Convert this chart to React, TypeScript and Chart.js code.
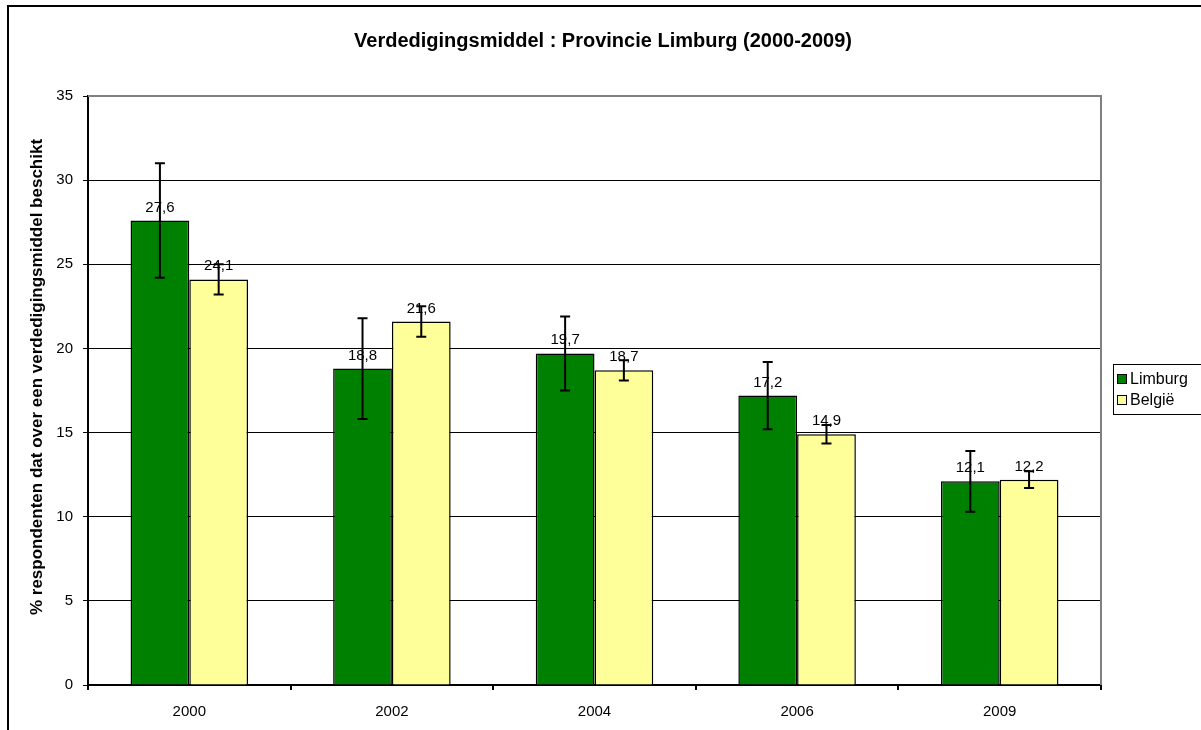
import React, { useEffect, useRef } from "react";
import { Chart, registerables } from "chart.js";

Chart.register(...registerables);

const years = ["2000", "2002", "2004", "2006", "2009"];
const limburg = [27.6, 18.8, 19.7, 17.2, 12.1];
const belgie = [24.1, 21.6, 18.7, 14.9, 12.2];
const limburgErr = [3.4, 3.0, 2.2, 2.0, 1.8];
const belgieErr = [0.9, 0.9, 0.6, 0.55, 0.5];
const seriesNames = ["Limburg", "België"];
const titleText = "Verdedigingsmiddel : Provincie Limburg (2000-2009)";
const yTitleText = "% respondenten dat over een verdedigingsmiddel beschikt";

const FONT = "Arial, 'Liberation Sans', sans-serif";

const decor = {
  id: "decor",
  beforeDraw(chart: any) {
    const { ctx, width, height } = chart;
    ctx.save();
    ctx.fillStyle = "#fff";
    ctx.fillRect(0, 0, width, height);
    ctx.restore();
  },
  afterDatasetsDraw(chart: any) {
    const { ctx, chartArea } = chart;
    const yScale = chart.scales.y;
    const errs = [limburgErr, belgieErr];
    ctx.save();
    // plot area top/right grey frame
    ctx.strokeStyle = "#808080";
    ctx.lineWidth = 2;
    ctx.beginPath();
    ctx.moveTo(chartArea.left, chartArea.top);
    ctx.lineTo(chartArea.right, chartArea.top);
    ctx.lineTo(chartArea.right, chartArea.bottom);
    ctx.stroke();
    // error bars
    ctx.strokeStyle = "#000";
    ctx.lineWidth = 2;
    chart.data.datasets.forEach((ds: any, di: number) => {
      const meta = chart.getDatasetMeta(di);
      meta.data.forEach((bar: any, i: number) => {
        const v = ds.data[i];
        const e = errs[di][i];
        const x = bar.x;
        const yt = yScale.getPixelForValue(v + e);
        const yb = yScale.getPixelForValue(v - e);
        ctx.beginPath();
        ctx.moveTo(x, yt);
        ctx.lineTo(x, yb);
        ctx.moveTo(x - 5, yt);
        ctx.lineTo(x + 5, yt);
        ctx.moveTo(x - 5, yb);
        ctx.lineTo(x + 5, yb);
        ctx.stroke();
      });
    });
    // value labels
    ctx.fillStyle = "#000";
    ctx.font = `15px ${FONT}`;
    ctx.textAlign = "center";
    ctx.textBaseline = "alphabetic";
    chart.data.datasets.forEach((ds: any, di: number) => {
      const meta = chart.getDatasetMeta(di);
      meta.data.forEach((bar: any, i: number) => {
        const label = String(ds.data[i]).replace(".", ",");
        ctx.fillText(label, bar.x, bar.y - 9);
      });
    });
    ctx.restore();
  },
  afterDraw(chart: any) {
    const { ctx } = chart;
    ctx.save();
    // outer frame
    ctx.strokeStyle = "#000";
    ctx.lineWidth = 2;
    ctx.strokeRect(8, 6, 1400, 1000);
    // title
    ctx.fillStyle = "#000";
    ctx.font = `bold 20px ${FONT}`;
    ctx.textAlign = "center";
    ctx.textBaseline = "middle";
    ctx.fillText(titleText, 603, 41);
    // y axis title
    ctx.save();
    ctx.translate(37, 377);
    ctx.rotate(-Math.PI / 2);
    ctx.font = `bold 17px ${FONT}`;
    ctx.fillText(yTitleText, 0, 0);
    ctx.restore();
    // legend
    ctx.lineWidth = 1;
    ctx.strokeStyle = "#000";
    ctx.strokeRect(1113.5, 364.5, 90, 50);
    const colors = ["#008000", "#FFFF99"];
    ctx.font = `16px ${FONT}`;
    ctx.textAlign = "left";
    ctx.textBaseline = "middle";
    seriesNames.forEach((name, i) => {
      const cy = 379 + i * 21;
      ctx.fillStyle = colors[i];
      ctx.fillRect(1117, cy - 5, 10, 10);
      ctx.strokeRect(1117.5, cy - 4.5, 9, 9);
      ctx.fillStyle = "#000";
      ctx.fillText(name, 1130, cy + 1);
    });
    ctx.restore();
  },
};

export default function App() {
  const ref = useRef<HTMLCanvasElement | null>(null);
  useEffect(() => {
    if (!ref.current) return;
    const chart = new Chart(ref.current, {
      type: "bar",
      data: {
        labels: years,
        datasets: [
          {
            label: seriesNames[0],
            data: limburg,
            backgroundColor: "#008000",
            borderColor: "#000",
            borderWidth: 1.5,
            borderSkipped: "bottom",
            categoryPercentage: 0.58,
            barPercentage: 1,
          },
          {
            label: seriesNames[1],
            data: belgie,
            backgroundColor: "#FFFF99",
            borderColor: "#000",
            borderWidth: 1.5,
            borderSkipped: "bottom",
            categoryPercentage: 0.58,
            barPercentage: 1,
          },
        ],
      },
      plugins: [decor],
      options: {
        animation: false,
        responsive: false,
        devicePixelRatio: 1,
        layout: { padding: { top: 96, right: 100, left: 0, bottom: 0 } },
        plugins: {
          legend: { display: false },
          title: { display: false },
          tooltip: { enabled: false },
        },
        scales: {
          x: {
            offset: true,
            afterFit: (s: any) => {
              s.height = 45;
            },
            grid: {
              offset: true,
              drawOnChartArea: false,
              drawTicks: true,
              tickLength: 5,
              color: "#000",
              lineWidth: 2,
            },
            border: { display: true, color: "#000", width: 2 },
            ticks: {
              color: "#000",
              font: { family: FONT, size: 15 },
              padding: 13,
              maxRotation: 0,
            },
          },
          y: {
            min: 0,
            max: 35,
            afterFit: (s: any) => {
              s.width = 88;
            },
            grid: {
              color: "#000",
              lineWidth: 1,
              tickLength: 5,
              drawTicks: true,
            },
            border: { display: true, color: "#000", width: 2 },
            ticks: {
              stepSize: 5,
              color: "#000",
              font: { family: FONT, size: 15 },
              padding: 10,
            },
          },
        },
      },
    });
    return () => chart.destroy();
  }, []);
  return (
    <div style={{ position: "fixed", left: 0, top: 0, width: 1201, height: 730, background: "#fff" }}>
      <canvas ref={ref} width={1201} height={730} style={{ width: 1201, height: 730, display: "block" }} />
    </div>
  );
}
